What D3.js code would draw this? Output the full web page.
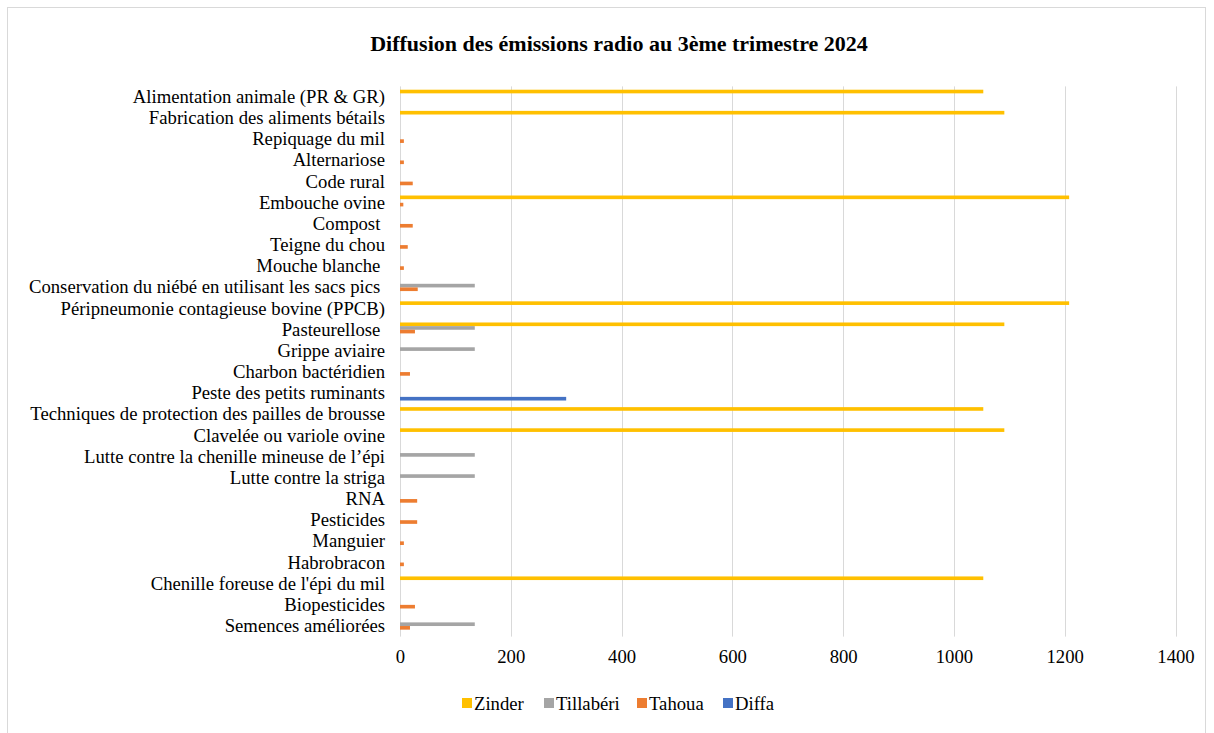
<!DOCTYPE html>
<html><head><meta charset="utf-8">
<script src="https://cdn.jsdelivr.net/npm/d3@7/dist/d3.min.js"></script>
<style>
body{margin:0;background:#fff;}
svg text{font-family:"Liberation Serif","Times New Roman",serif;fill:#000;}
.cat text{white-space:pre;}
</style></head>
<body>
<svg id="chart" width="1214" height="733"></svg>
<script>
const categories = [
  "Alimentation animale (PR & GR)",
  "Fabrication des aliments bétails",
  "Repiquage du mil",
  "Alternariose",
  "Code rural",
  "Embouche ovine",
  "Compost ",
  "Teigne du chou",
  "Mouche blanche ",
  "Conservation du niébé en utilisant les sacs pics ",
  "Péripneumonie contagieuse bovine (PPCB)",
  "Pasteurellose ",
  "Grippe aviaire",
  "Charbon bactéridien",
  "Peste des petits ruminants",
  "Techniques de protection des pailles de brousse",
  "Clavelée ou variole ovine",
  "Lutte contre la chenille mineuse de l’épi",
  "Lutte contre la striga",
  "RNA",
  "Pesticides",
  "Manguier",
  "Habrobracon",
  "Chenille foreuse de l'épi du mil",
  "Biopesticides",
  "Semences améliorées"
];
const zinder    = [1053,1091,0,0,0,1208,0,0,0,0,1208,1091,0,0,0,1053,1091,0,0,0,0,0,0,1053,0,0];
const tillaberi = [0,0,0,0,0,0,0,0,0,135,0,135,135,0,0,0,0,135,135,0,0,0,0,0,0,135];
const tahoua    = [0,0,7,7,23,6,23,14,7,32,0,27,0,18,0,0,0,0,0,31,31,7,7,0,27,18];
const diffa     = [0,0,0,0,0,0,0,0,0,0,0,0,0,0,300,0,0,0,0,0,0,0,0,0,0,0];
const seriesNames = ["Zinder","Tillabéri","Tahoua","Diffa"];
const seriesColors = ["#FFC000","#A5A5A5","#ED7D31","#4472C4"];
const xTicks = [0,200,400,600,800,1000,1200,1400];
const title = "Diffusion des émissions radio au 3ème trimestre 2024";

(function(){
const FONT = "Liberation Serif";
const FS = "18.7px";
const seriesValues = [zinder, tillaberi, tahoua, diffa];
const svg = d3.select("#chart");

svg.append("rect").attr("x",7.5).attr("y",7.5).attr("width",1198).attr("height",740)
  .attr("fill","none").attr("stroke","#d9d9d9").attr("stroke-width",1);

const pL = 400, pR = 1175.5, pT = 86.4, pB = 636.6;
const x = d3.scaleLinear().domain([0,1400]).range([pL,pR]);
const y = d3.scaleBand().domain(categories).range([pT,pB]).padding(0);
const ys = d3.scaleBand().domain(seriesNames).range([0,y.bandwidth()]).paddingInner(0).paddingOuter(0.91);

svg.append("g").selectAll("line").data(xTicks).join("line")
  .attr("x1",d=>Math.round(x(d))+0.5).attr("x2",d=>Math.round(x(d))+0.5)
  .attr("y1",pT).attr("y2",pB)
  .attr("stroke","#d9d9d9").attr("stroke-width",1);

const rows = [];
categories.forEach((c,i)=>{
  seriesNames.forEach((s,j)=>{
    const v = seriesValues[j][i];
    if (v>0) rows.push({c,s,v,color:seriesColors[j]});
  });
});
svg.append("g").selectAll("rect").data(rows).join("rect")
  .attr("x",x(0)).attr("y",d=>y(d.c)+ys(d.s))
  .attr("width",d=>x(d.v)-x(0)).attr("height",ys.bandwidth())
  .attr("fill",d=>d.color);

const yAxis = d3.axisLeft(y).tickSize(0).tickPadding(15);
const ga = svg.append("g").attr("class","cat").attr("transform",`translate(${pL},0)`).call(yAxis);
ga.attr("font-family",FONT).attr("font-size",FS);
ga.select(".domain").remove();
ga.selectAll("text").attr("font-size",FS).attr("font-family",FONT).attr("fill","#000");

const xAxis = d3.axisBottom(x).tickValues(xTicks).tickSize(0).tickPadding(0).tickFormat(d3.format("d"));
const gx = svg.append("g").attr("transform",`translate(0,${pB+13})`).call(xAxis);
gx.attr("font-family",FONT).attr("font-size",FS);
gx.select(".domain").remove();
gx.selectAll("text").attr("font-size",FS).attr("font-family",FONT).attr("fill","#000");

svg.append("text").attr("x",619).attr("y",51).attr("text-anchor","middle")
  .attr("font-family",FONT).attr("font-size","22px").attr("font-weight","bold").text(title);

const legendX = [462, 544, 637, 723];
const lg = svg.append("g").selectAll("g").data(seriesNames).join("g")
  .attr("transform",(d,i)=>`translate(${legendX[i]},703)`);
lg.append("rect").attr("x",0).attr("y",-5).attr("width",10).attr("height",10)
  .attr("fill",(d,i)=>seriesColors[i]);
lg.append("text").attr("x",12).attr("y",6.5).attr("font-family",FONT).attr("font-size",FS).text(d=>d);
})();
</script>
</body></html>
